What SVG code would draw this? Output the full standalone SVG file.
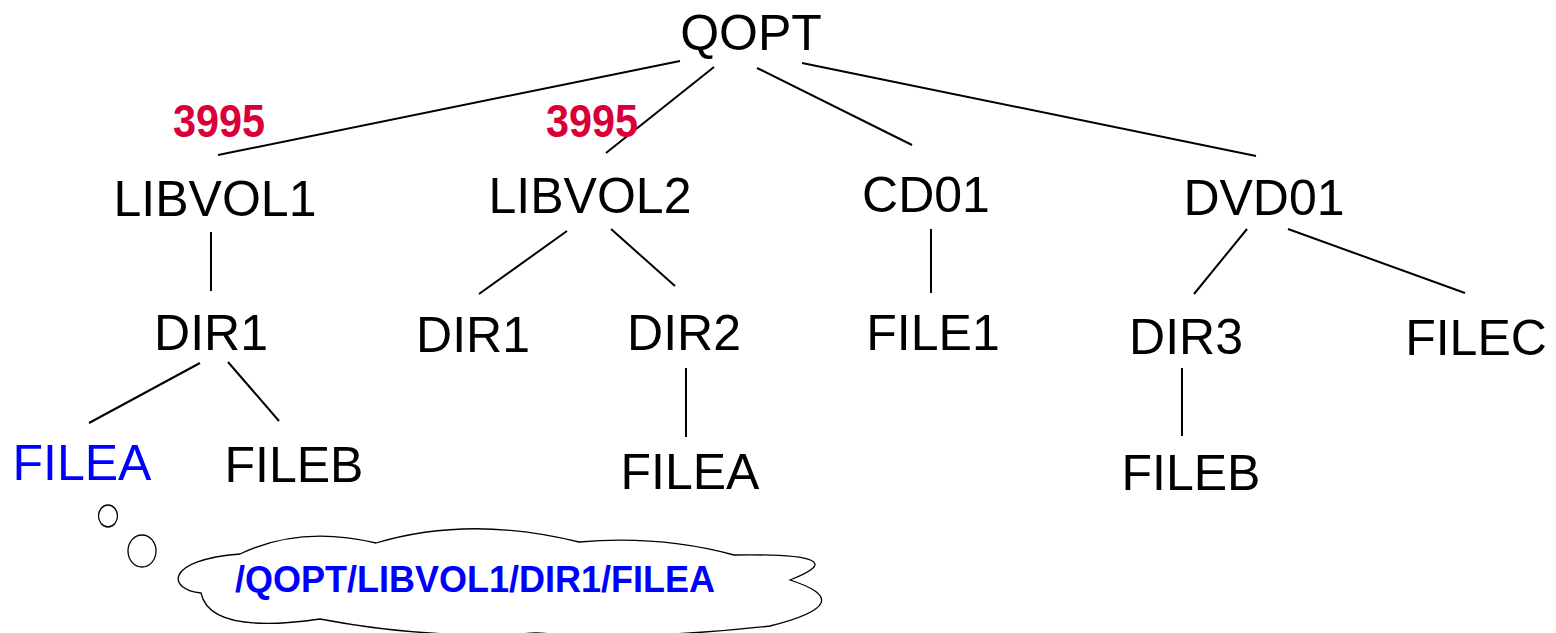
<svg xmlns="http://www.w3.org/2000/svg" width="1556" height="633" viewBox="0 0 1556 633">
  <style>
    .node { font-family: "Liberation Sans", Arial, sans-serif; font-size: 50px; fill: #000; text-anchor: middle; }
    .sel { fill: #0000ff; }
    .count { font-family: "Liberation Sans", Arial, sans-serif; font-size: 46px; font-weight: bold; fill: #d9003a; text-anchor: middle; }
    .path { font-family: "Liberation Sans", Arial, sans-serif; font-size: 36px; font-weight: bold; fill: #0000ff; text-anchor: middle; }
    .edge { stroke: #000; stroke-width: 2; fill: none; }
    .bubble { stroke: #000; stroke-width: 1.3; fill: #fff; }
  </style>

  <!-- connectors -->
  <g id="connectors">
    <line class="edge" x1="680" y1="61" x2="218" y2="155"/>
    <line class="edge" x1="714" y1="67" x2="606" y2="153"/>
    <line class="edge" x1="757" y1="68" x2="912" y2="145"/>
    <line class="edge" x1="802" y1="63" x2="1256" y2="156"/>
    <line class="edge" x1="211" y1="232" x2="211" y2="291"/>
    <line class="edge" x1="567" y1="231" x2="479" y2="294"/>
    <line class="edge" x1="611" y1="229" x2="675" y2="286"/>
    <line class="edge" x1="931" y1="229" x2="931" y2="293"/>
    <line class="edge" x1="1247" y1="229" x2="1194" y2="294"/>
    <line class="edge" x1="1288" y1="229" x2="1465" y2="293"/>
    <line class="edge" x1="200" y1="363" x2="89" y2="423"/>
    <line class="edge" x1="228" y1="362" x2="279" y2="421"/>
    <line class="edge" x1="686" y1="368" x2="686" y2="437"/>
    <line class="edge" x1="1182" y1="368" x2="1182" y2="436"/>
  </g>

  <!-- usage counts (narrowed bold digits) -->
  <text class="count" transform="translate(219,137) scale(0.9,1)">3995</text>
  <text class="count" transform="translate(592,137) scale(0.9,1)">3995</text>

  <!-- nodes -->
  <g id="qopt"><text class="node" x="751" y="50">QOPT</text></g>
  <g id="libvol1"><text class="node" x="215" y="216">LIBVOL1</text></g>
  <g id="libvol2"><text class="node" x="590" y="213">LIBVOL2</text></g>
  <g id="cd01"><text class="node" x="926" y="212">CD01</text></g>
  <g id="dvd01"><text class="node" x="1264" y="215">DVD01</text></g>
  <g id="libvol1-dir1"><text class="node" x="211" y="350">DIR1</text></g>
  <g id="libvol2-dir1"><text class="node" x="473" y="352">DIR1</text></g>
  <g id="libvol2-dir2"><text class="node" x="684" y="350">DIR2</text></g>
  <g id="cd01-file1"><text class="node" x="933" y="350">FILE1</text></g>
  <g id="dvd01-dir3"><text class="node" x="1186" y="354">DIR3</text></g>
  <g id="dvd01-filec"><text class="node" x="1476" y="355">FILEC</text></g>
  <g id="dir1-filea"><text class="node sel" x="82" y="480">FILEA</text></g>
  <g id="dir1-fileb"><text class="node" x="294" y="482">FILEB</text></g>
  <g id="dir2-filea"><text class="node" x="690" y="489">FILEA</text></g>
  <g id="dir3-fileb"><text class="node" x="1191" y="490">FILEB</text></g>

  <!-- thought bubble with the full path -->
  <g id="path-bubble">
    <ellipse class="bubble" cx="108" cy="516" rx="9.5" ry="11"/>
    <ellipse class="bubble" cx="142" cy="551" rx="14" ry="16"/>
    <path class="bubble" d="M240,554 Q300,525 376,543 Q470,515 579,542 Q660,535 734,555 Q860,553 790,580 Q862,603 770,626 Q650,640 536,633 Q430,640 320,619 Q210,635 201,593 C168,590 163,560 240,554 Z"/>
    <text class="path" x="475" y="592">/QOPT/LIBVOL1/DIR1/FILEA</text>
  </g>
</svg>
